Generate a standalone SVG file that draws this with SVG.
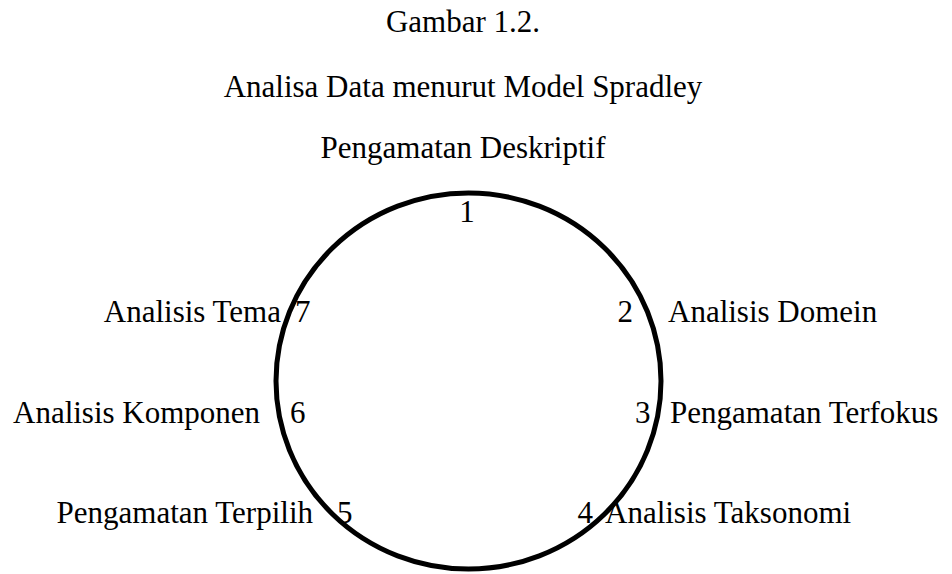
<svg xmlns="http://www.w3.org/2000/svg" width="952" height="574" viewBox="0 0 952 574">
<style>
text{font-family:"Liberation Serif","Times New Roman",serif;font-size:31px;fill:#000}
.m{text-anchor:middle}
.e{text-anchor:end}
</style>
<rect width="952" height="574" fill="#fff"/>
<g id="titles">
<text class="m" x="463" y="32">Gambar 1.2.</text>
<text class="m" x="463" y="97">Analisa Data menurut Model Spradley</text>
</g>
<g id="connectors">
<ellipse cx="468.5" cy="381" rx="192.5" ry="188" fill="none" stroke="#000" stroke-width="5"/>
</g>
<g id="node1"><text class="m" x="463" y="158">Pengamatan Deskriptif</text><text class="m" x="467" y="222">1</text></g>
<g id="node2"><text class="e" x="633" y="322">2</text><text x="668" y="322">Analisis Domein</text></g>
<g id="node3"><text x="635" y="423">3</text><text x="670" y="423">Pengamatan Terfokus</text></g>
<g id="node4"><text class="e" x="593" y="523">4</text><text x="605" y="523">Analisis Taksonomi</text></g>
<g id="node5"><text class="e" x="313" y="523">Pengamatan Terpilih</text><text x="337" y="523">5</text></g>
<g id="node6"><text x="13" y="423">Analisis Komponen</text><text x="290" y="423">6</text></g>
<g id="node7"><text class="e" x="281" y="322">Analisis Tema</text><text x="295" y="322">7</text></g>
</svg>
